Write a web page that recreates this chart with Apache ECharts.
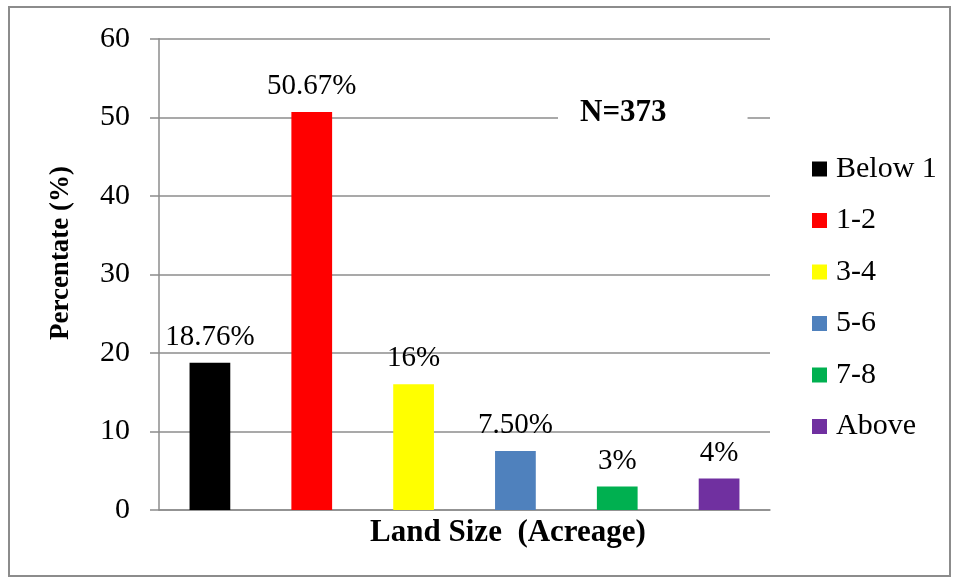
<!DOCTYPE html>
<html>
<head>
<meta charset="utf-8">
<script src="https://cdn.jsdelivr.net/npm/echarts@6/dist/echarts.min.js"></script>
<style>
  html, body { margin: 0; padding: 0; background: #fff; }
  #chart { width: 961px; height: 580px; }
</style>
</head>
<body>
<div id="chart"></div>
<script>
// Land size groups (acreage) and the share of respondents in each
const categories = ['Below 1', '1-2', '3-4', '5-6', '7-8', 'Above'];
const percentages = [18.76, 50.67, 16, 7.5, 3, 4];
const valueLabels = ['18.76%', '50.67%', '16%', '7.50%', '3%', '4%'];
const barColors = ['#000000', '#ff0000', '#ffff00', '#4f81bd', '#00b050', '#7030a0'];
const yTicks = [0, 10, 20, 30, 40, 50, 60];
const sampleNote = 'N=373';

const FONT = '"Liberation Serif", "Times New Roman", serif';
const GRAY = '#8c8c8c';

// One series per group so each gets its own colour and legend entry;
// every series only holds a value at its own category slot.
const series = categories.map((name, i) => ({
  name: name,
  type: 'bar',
  stack: 'share',
  barWidth: '40%',
  itemStyle: { color: barColors[i] },
  label: {
    show: true,
    position: 'top',
    distance: 11,
    color: '#000',
    fontFamily: FONT,
    fontSize: 29,
    formatter: () => valueLabels[i]
  },
  data: percentages.map((v, j) => (j === i ? v : '-'))
}));

const chart = echarts.init(document.getElementById('chart'), null, { renderer: 'canvas' });
chart.setOption({
  animation: false,
  backgroundColor: '#fff',
  textStyle: { fontFamily: FONT },
  grid: { left: 159, right: 191, top: 38.7, bottom: 70, containLabel: false },
  title: [
    {
      text: sampleNote,
      left: 558,
      top: 93,
      padding: [4, 81, 4, 22],
      backgroundColor: '#fff',
      textStyle: { fontFamily: FONT, fontSize: 31, fontWeight: 'bold', color: '#000' }
    },
    {
      text: 'Land Size  (Acreage)',
      left: 508,
      top: 517,
      textAlign: 'center',
      padding: 0,
      textStyle: { fontFamily: FONT, fontSize: 31, fontWeight: 'bold', color: '#000' }
    }
  ],
  legend: {
    orient: 'vertical',
    left: 812,
    top: 154,
    icon: 'rect',
    itemWidth: 15,
    itemHeight: 15,
    itemGap: 21.5,
    padding: 0,
    textStyle: { fontFamily: FONT, fontSize: 30, color: '#000', padding: [0, 0, 0, 4] },
    data: categories
  },
  xAxis: {
    type: 'category',
    data: categories,
    axisLine: { show: true, lineStyle: { color: GRAY, width: 1.5 } },
    axisTick: { show: false },
    axisLabel: { show: false },
    splitLine: { show: false }
  },
  yAxis: {
    type: 'value',
    min: yTicks[0],
    max: yTicks[yTicks.length - 1],
    interval: 10,
    axisLine: { show: true, lineStyle: { color: GRAY, width: 1.5 } },
    axisTick: { show: true, length: 9, lineStyle: { color: GRAY, width: 1.5 } },
    axisLabel: { margin: 29, color: '#000', fontFamily: FONT, fontSize: 30 },
    splitLine: { show: true, lineStyle: { color: GRAY, width: 1.5 } }
  },
  graphic: [
    {
      type: 'rect',
      shape: { x: 9, y: 7, width: 941, height: 569 },
      style: { fill: 'none', stroke: GRAY, lineWidth: 2 },
      silent: true,
      z: -1
    },
    {
      type: 'text',
      x: 61,
      y: 253,
      rotation: Math.PI / 2,
      style: {
        text: 'Percentate (%)',
        font: 'bold 27px ' + FONT,
        fill: '#000',
        align: 'center',
        verticalAlign: 'middle'
      }
    }
  ],
  series: series
});
</script>
</body>
</html>
